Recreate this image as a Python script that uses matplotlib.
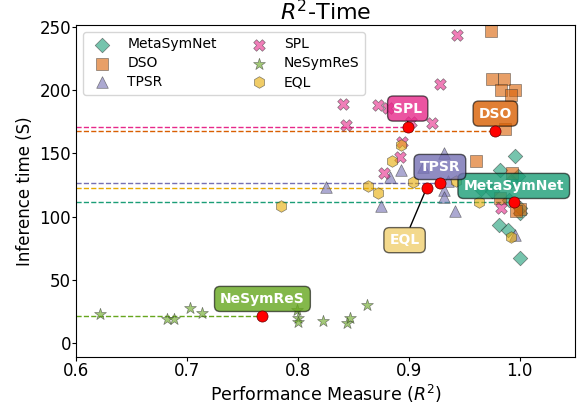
import numpy as np
import matplotlib
matplotlib.use("Agg")
import matplotlib.pyplot as plt
from matplotlib.colors import to_rgba

# datos
metodos = ["MetaSymNet", "DSO", "TPSR", "SPL", "NeSymReS", "EQL"]
marcadores = ["D", "s", "^", "X", "*", "h"]

metasymnet_r2 = [0.9955, 0.982, 0.998, 0.992, 0.965, 0.975, 0.99, 1.0, 1.0, 0.981, 0.989, 1.0]
metasymnet_t = [148, 137, 132, 128, 122, 120, 113, 103, 107, 93, 89, 67]

dso_r2 = [0.9745, 0.975, 0.986, 0.983, 0.996, 0.992, 0.987, 0.961, 0.993, 0.982, 1.0, 0.997]
dso_t = [247, 208.5, 208.5, 200, 200, 196, 169, 144, 134, 115, 106, 104]

tpsr_r2 = [0.825, 0.875, 0.883, 0.8925, 0.913, 0.9315, 0.932, 0.932, 0.942, 0.9955, 0.935]
tpsr_t = [123, 108.5, 131, 137, 139, 150, 121, 115.5, 104, 85.5, 128]

spl_r2 = [0.9435, 0.9285, 0.921, 0.841, 0.843, 0.8725, 0.881, 0.8935, 0.892, 0.878, 0.902, 0.9835]
spl_t = [243.5, 205, 174, 189, 172.5, 188, 185.5, 159, 147, 134, 175, 106.5]

nesymres_r2 = [0.6216, 0.6817, 0.6886, 0.7027, 0.7132, 0.7994, 0.800, 0.8004, 0.8228, 0.8438, 0.8468, 0.8625]
nesymres_t = [22.7, 18.7, 18.7, 28, 24, 26, 20, 17, 17.7, 15.6, 19.5, 30]

eql_r2 = [0.7847, 0.8634, 0.8724, 0.8844, 0.893, 0.9035, 0.9423, 0.9633, 0.9925]
eql_t = [108.4, 124, 118.2, 143.5, 156.6, 127.6, 128.4, 111.8, 84.1]

# medias (puntos rojos)
media_r2 = [0.9946, 0.978, 0.928, 0.899, 0.768, 0.916]
media_t = [111.5, 167.9, 126.5, 171.1, 21.4, 122.4]

r2_todos = [metasymnet_r2, dso_r2, tpsr_r2, spl_r2, nesymres_r2, eql_r2]
t_todos = [metasymnet_t, dso_t, tpsr_t, spl_t, nesymres_t, eql_t]

colores = ["#1b9e77", "#d95f02", "#7570b3", "#e7298a", "#66a61e", "#e6ab02"]
# desplazamiento de las etiquetas en pixeles
desplaz = [(0, 16), (0, 17), (0, 16), (0, 18), (0, 17), (-22, -52)]
alfa_caja = [0.8, 0.8, 0.8, 0.8, 0.8, 0.45]

fig, ax = plt.subplots(figsize=(5.81, 4.07), dpi=100)
fig.subplots_adjust(left=0.131, right=0.99, top=0.939, bottom=0.123)

for i, nombre in enumerate(metodos):
    tam = 55 if marcadores[i] == "D" else (80 if marcadores[i] == "*" else 70)
    ax.scatter(r2_todos[i], t_todos[i], marker=marcadores[i], s=tam,
               color=colores[i], edgecolors="#333333", linewidths=0.5,
               alpha=0.6, label=nombre, zorder=2)

for i, nombre in enumerate(metodos):
    ax.hlines(media_t[i], 0.6, media_r2[i], colors=colores[i],
              linestyles="--", linewidth=1, zorder=1)
    ax.scatter(media_r2[i], media_t[i], s=64, color="red",
               edgecolors="#660000", linewidths=0.5, zorder=5)
    ax.annotate(nombre, xy=(media_r2[i], media_t[i]), xytext=desplaz[i],
                textcoords="offset pixels", ha="center", va="center",
                fontsize=10, fontweight="bold", color="white",
                bbox=dict(boxstyle="round,pad=0.4",
                          fc=to_rgba(colores[i], alfa_caja[i]),
                          ec=(0, 0, 0, 0.6), lw=1),
                arrowprops=dict(arrowstyle="-", color="k", lw=1, shrinkA=0, shrinkB=3),
                zorder=4)

ax.set_xlim(0.6, 1.05)
ax.set_ylim(-11, 251.5)
ax.set_title("$R^2$-Time", fontsize=16, pad=3)
ax.set_xlabel("Performance Measure ($R^2$)", fontsize=12.5, labelpad=2)
ax.set_ylabel("Inference time (S)", fontsize=12)
ax.tick_params(labelsize=12, pad=0.5, length=3)
ax.legend(loc="upper left", ncol=2, fontsize=10, labelspacing=0.35)

plt.savefig("out.png", dpi=100)
